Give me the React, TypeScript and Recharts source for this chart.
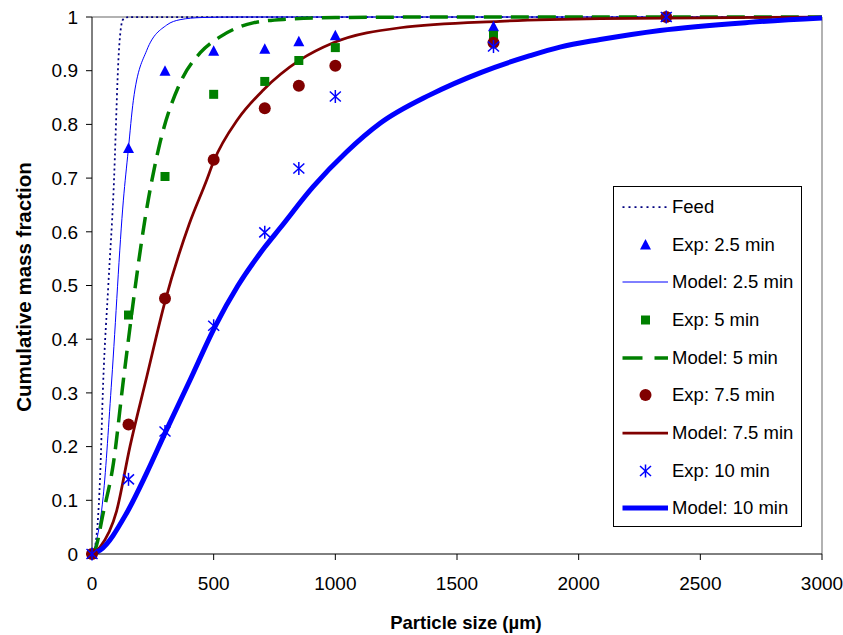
import React from "react";
import {
  ComposedChart,
  Line,
  Scatter,
  XAxis,
  YAxis,
  ReferenceLine,
  Legend,
} from "recharts";

const FONT = "'Liberation Sans', Arial, Helvetica, sans-serif";

// sieve sizes of the experimental points (µm)
const sieveSizes = [0, 150, 300, 500, 710, 850, 1000, 1650, 2360];
const exp25 = [0, 0.755, 0.899, 0.936, 0.94, 0.954, 0.965, 0.982, 1];
const exp5 = [0, 0.445, 0.703, 0.856, 0.88, 0.919, 0.943, 0.966, 1];
const exp75 = [0, 0.241, 0.476, 0.734, 0.83, 0.872, 0.909, 0.952, 1];
const exp10 = [0, 0.139, 0.228, 0.425, 0.599, 0.718, 0.852, 0.945, 1];

// model curves
const feedX = [0, 12, 33, 46, 67, 88, 111, 127, 150, 3000];
const feedY = [0, 0.013, 0.14, 0.32, 0.5, 0.67, 0.94, 0.995, 1, 1];

const model25X = [0, 19, 46, 81, 129, 149, 170, 225, 307, 362, 450, 600, 3000];
const model25Y = [0, 0.026, 0.107, 0.324, 0.659, 0.752, 0.845, 0.938, 0.985, 0.995, 0.999, 1, 1];

const model5X = [0, 12, 46, 88, 129, 231, 279, 362, 444, 526, 662, 801, 1000, 1500, 3000];
const model5Y = [0, 0.007, 0.076, 0.169, 0.324, 0.659, 0.765, 0.877, 0.933, 0.963, 0.989, 0.996, 0.999, 1, 1];

const model75X = [0, 33, 101, 156, 225, 300, 400, 471, 499, 600, 704, 855, 992, 1266, 1677, 2088, 3000];
const model75Y = [0, 0.013, 0.08, 0.2, 0.33, 0.47, 0.615, 0.696, 0.73, 0.81, 0.864, 0.92, 0.952, 0.98, 0.992, 0.997, 1];

const model10X = [0, 33, 142, 225, 300, 403, 505, 600, 711, 773, 909, 1047, 1184, 1389, 1600, 1800, 1923, 2088, 2334, 2700, 3000];
const model10Y = [0, 0.007, 0.076, 0.151, 0.225, 0.324, 0.423, 0.5, 0.572, 0.607, 0.684, 0.749, 0.802, 0.855, 0.897, 0.928, 0.944, 0.958, 0.975, 0.99, 0.998];

const xTicks = [0, 500, 1000, 1500, 2000, 2500, 3000];
const yTicks = [0, 0.1, 0.2, 0.3, 0.4, 0.5, 0.6, 0.7, 0.8, 0.9, 1];

const toPts = (xs: number[], ys: number[]) => xs.map((x, i) => ({ x, y: ys[i] }));

const BLUE = "#0000FF";
const NAVY = "#000080";
const GREEN = "#008000";
const MAROON = "#800000";

type MarkerKind = "triangle" | "square" | "circle" | "asterisk";

function Marker({ kind, cx, cy }: { kind: MarkerKind; cx: number; cy: number }) {
  if (kind === "triangle")
    return <polygon points={`${cx},${cy - 6} ${cx - 5.5},${cy + 4.5} ${cx + 5.5},${cy + 4.5}`} fill={BLUE} />;
  if (kind === "square") return <rect x={cx - 4.5} y={cy - 4.5} width={9} height={9} fill={GREEN} />;
  if (kind === "circle") return <circle cx={cx} cy={cy} r={6} fill={MAROON} />;
  return (
    <g stroke={BLUE} strokeWidth={1.5}>
      <line x1={cx} y1={cy - 6.5} x2={cx} y2={cy + 6.5} />
      <line x1={cx - 5.5} y1={cy - 5} x2={cx + 5.5} y2={cy + 5} />
      <line x1={cx - 5.5} y1={cy + 5} x2={cx + 5.5} y2={cy - 5} />
    </g>
  );
}

const markerShape = (kind: MarkerKind) => (p: any) => <Marker kind={kind} cx={p.cx} cy={p.cy} />;

interface LegendRow {
  name: string;
  marker?: MarkerKind;
  stroke?: string;
  width?: number;
  dash?: string;
}

const legendRows: LegendRow[] = [
  { name: "Feed", stroke: NAVY, width: 1.75, dash: "2 4" },
  { name: "Exp: 2.5 min", marker: "triangle" },
  { name: "Model: 2.5 min", stroke: BLUE, width: 1 },
  { name: "Exp: 5 min", marker: "square" },
  { name: "Model: 5 min", stroke: GREEN, width: 3.5, dash: "20 12" },
  { name: "Exp: 7.5 min", marker: "circle" },
  { name: "Model: 7.5 min", stroke: MAROON, width: 2.75 },
  { name: "Exp: 10 min", marker: "asterisk" },
  { name: "Model: 10 min", stroke: BLUE, width: 5 },
];

function LegendBox() {
  return (
    <div
      style={{
        width: 189,
        height: 341,
        boxSizing: "border-box",
        border: "1px solid #000",
        background: "#fff",
        paddingTop: 1,
        fontFamily: FONT,
        fontSize: 18.5,
        color: "#000",
      }}
    >
      {legendRows.map((r) => (
        <div key={r.name} style={{ display: "flex", alignItems: "center", height: 37.7 }}>
          <svg width={58} height={20} style={{ flex: "none" }}>
            {r.marker ? (
              <Marker kind={r.marker} cx={31.5} cy={10} />
            ) : (
              <line x1={8.5} y1={10} x2={54} y2={10} stroke={r.stroke} strokeWidth={r.width} strokeDasharray={r.dash} />
            )}
          </svg>
          <span style={{ whiteSpace: "nowrap" }}>{r.name}</span>
        </div>
      ))}
    </div>
  );
}

export default function App() {
  const tickStyle = { fill: "#000", fontSize: 19, fontFamily: FONT };
  return (
    <div style={{ position: "absolute", left: 0, top: 0, background: "#fff" }}>
      <ComposedChart width={843} height={635} margin={{ top: 17, right: 21, left: 0, bottom: 0 }}>
        <XAxis
          type="number"
          dataKey="x"
          domain={[0, 3000]}
          ticks={xTicks}
          height={81}
          tick={tickStyle}
          tickSize={6}
          tickMargin={17}
          stroke="#000"
          label={{
            content: () => (
              <text x={466} y={629} textAnchor="middle" fontFamily={FONT} fontSize={18.5} fontWeight="bold" fill="#000">
                Particle size (µm)
              </text>
            ),
          }}
        />
        <YAxis
          type="number"
          dataKey="y"
          domain={[0, 1]}
          ticks={yTicks}
          width={92}
          tick={tickStyle}
          tickSize={6}
          tickMargin={8}
          stroke="#000"
          label={{
            content: () => (
              <text
                x={23}
                y={287}
                transform="rotate(-90 23 287)"
                textAnchor="middle"
                dominantBaseline="central"
                fontFamily={FONT}
                fontSize={20.5}
                fontWeight="bold"
                fill="#000"
              >
                Cumulative mass fraction
              </text>
            ),
          }}
        />
        <ReferenceLine y={1} stroke="#999" strokeWidth={1.5} />
        <ReferenceLine x={3000} stroke="#999" strokeWidth={1.5} />
        <Legend
          layout="vertical"
          align="center"
          verticalAlign="middle"
          wrapperStyle={{ left: 613, top: 186, width: 189, height: 341 }}
          content={() => <LegendBox />}
        />

        <Line data={toPts(feedX, feedY)} dataKey="y" type="monotone" stroke={NAVY} strokeWidth={1.75} strokeDasharray="2 3" dot={false} activeDot={false} isAnimationActive={false} />
        <Scatter data={toPts(sieveSizes, exp25)} dataKey="y" shape={markerShape("triangle")} isAnimationActive={false} />
        <Line data={toPts(model25X, model25Y)} dataKey="y" type="monotone" stroke={BLUE} strokeWidth={1} dot={false} activeDot={false} isAnimationActive={false} />
        <Scatter data={toPts(sieveSizes, exp5)} dataKey="y" shape={markerShape("square")} isAnimationActive={false} />
        <Line data={toPts(model5X, model5Y)} dataKey="y" type="monotone" stroke={GREEN} strokeWidth={3.5} strokeDasharray="18 9" dot={false} activeDot={false} isAnimationActive={false} />
        <Scatter data={toPts(sieveSizes, exp75)} dataKey="y" shape={markerShape("circle")} isAnimationActive={false} />
        <Line data={toPts(model75X, model75Y)} dataKey="y" type="monotone" stroke={MAROON} strokeWidth={2.75} dot={false} activeDot={false} isAnimationActive={false} />
        <Scatter data={toPts(sieveSizes, exp10)} dataKey="y" shape={markerShape("asterisk")} isAnimationActive={false} />
        <Line data={toPts(model10X, model10Y)} dataKey="y" type="monotone" stroke={BLUE} strokeWidth={5} dot={false} activeDot={false} isAnimationActive={false} />
      </ComposedChart>
    </div>
  );
}
